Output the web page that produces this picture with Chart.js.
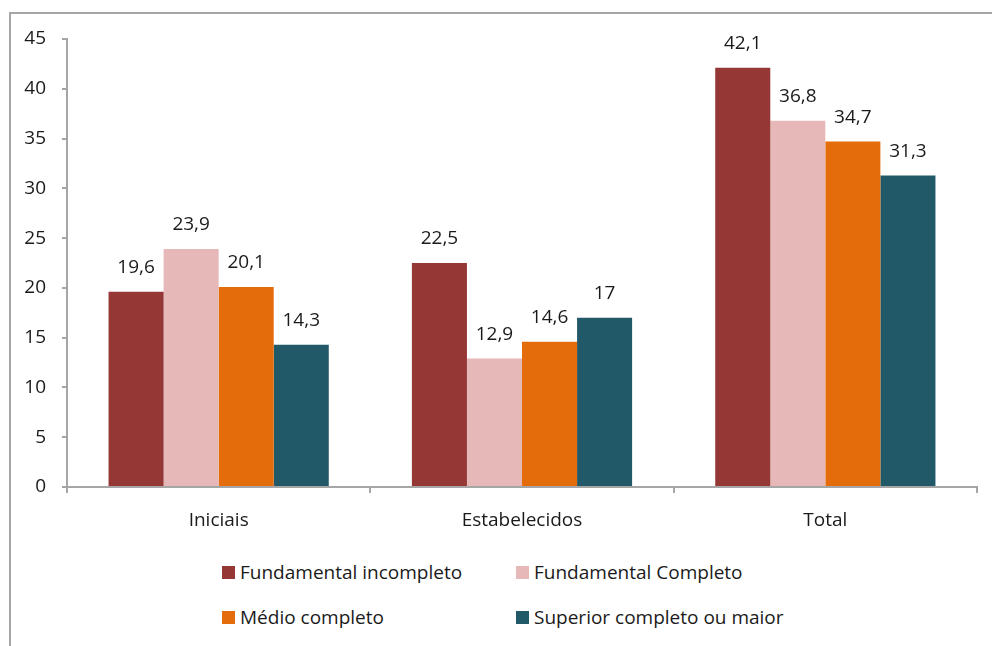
<!DOCTYPE html>
<html>
<head>
<meta charset="utf-8">
<script src="https://cdn.jsdelivr.net/npm/chart.js@4/dist/chart.umd.min.js"></script>
<style>
  body { margin: 0; background: #fff; }
  #wrap { position: relative; width: 992px; height: 646px; overflow: hidden; font-family: "Open Sans", sans-serif; }
  #frame { position: absolute; left: 9px; top: 12px; right: -5px; bottom: -5px; border-left: 2px solid #a6a6a6; border-top: 2px solid #a6a6a6; }
  #chartBox { position: absolute; left: 0; top: 0; width: 992px; height: 540px; }
  #legend { position: absolute; left: 222px; top: 558px; display: grid; grid-template-columns: 294px 294px; row-gap: 17px; }
  .item { display: flex; align-items: center; font-size: 19px; color: #1a1a1a; height: 28px; }
  .swatch { width: 13px; height: 13px; margin-right: 5px; }
</style>
</head>
<body>
<div id="wrap">
  <div id="frame"></div>
  <div id="chartBox"><canvas id="chartBar"></canvas></div>
  <div id="legend"></div>
</div>
<script>
const categories = ["Iniciais", "Estabelecidos", "Total"];
const seriesNames = ["Fundamental incompleto", "Fundamental Completo", "Médio completo", "Superior completo ou maior"];
const fundIncompleto = [19.6, 22.5, 42.1];
const fundCompleto = [23.9, 12.9, 36.8];
const medioCompleto = [20.1, 14.6, 34.7];
const superiorCompleto = [14.3, 17, 31.3];
const yTicks = [0, 5, 10, 15, 20, 25, 30, 35, 40, 45];

const colors = ["#953735", "#e6b9b8", "#e46c0a", "#215968"];
const seriesValues = [fundIncompleto, fundCompleto, medioCompleto, superiorCompleto];
const fontFamily = "Open Sans";
const textColor = "#1a1a1a";
const axisColor = "#a6a6a6";

const valueLabels = {
  id: "valueLabels",
  afterDatasetsDraw(chart) {
    const ctx = chart.ctx;
    ctx.save();
    ctx.font = "19px " + fontFamily;
    ctx.fillStyle = textColor;
    ctx.textAlign = "center";
    ctx.textBaseline = "middle";
    chart.data.datasets.forEach((ds, i) => {
      chart.getDatasetMeta(i).data.forEach((bar, j) => {
        const txt = String(ds.data[j]).replace(".", ",");
        ctx.fillText(txt, bar.x, bar.y - 24);
      });
    });
    ctx.restore();
  }
};

const data = {
  labels: categories,
  datasets: seriesNames.map((name, i) => ({
    label: name,
    data: seriesValues[i],
    backgroundColor: colors[i],
    borderWidth: 0,
    categoryPercentage: 0.726,
    barPercentage: 1
  }))
};

const options = {
  responsive: true,
  maintainAspectRatio: false,
  animation: false,
  layout: { padding: { left: 17, right: 15, top: 39, bottom: 3 } },
  plugins: {
    legend: { display: false },
    tooltip: { enabled: false }
  },
  scales: {
    x: {
      afterFit(scale) { scale.height = 50; },
      grid: { drawOnChartArea: false, drawTicks: true, tickLength: 6, color: axisColor, lineWidth: 2 },
      border: { color: axisColor, width: 2 },
      ticks: { padding: 16, color: textColor, font: { family: fontFamily, size: 19 } }
    },
    y: {
      min: 0,
      max: 45,
      afterFit(scale) { scale.width = 50; },
      afterBuildTicks(scale) { scale.ticks = yTicks.map(v => ({ value: v })); },
      grid: { drawOnChartArea: false, drawTicks: true, tickLength: 5, color: axisColor, lineWidth: 2 },
      border: { color: axisColor, width: 2 },
      ticks: { padding: 16, color: textColor, font: { family: fontFamily, size: 19 } }
    }
  }
};

new Chart(document.getElementById("chartBar"), {
  type: "bar",
  data,
  options,
  plugins: [valueLabels]
});

const legend = document.getElementById("legend");
seriesNames.forEach((name, i) => {
  const item = document.createElement("div");
  item.className = "item";
  const sw = document.createElement("span");
  sw.className = "swatch";
  sw.style.background = colors[i];
  const label = document.createElement("span");
  label.textContent = name;
  item.appendChild(sw);
  item.appendChild(label);
  legend.appendChild(item);
});
</script>
</body>
</html>
